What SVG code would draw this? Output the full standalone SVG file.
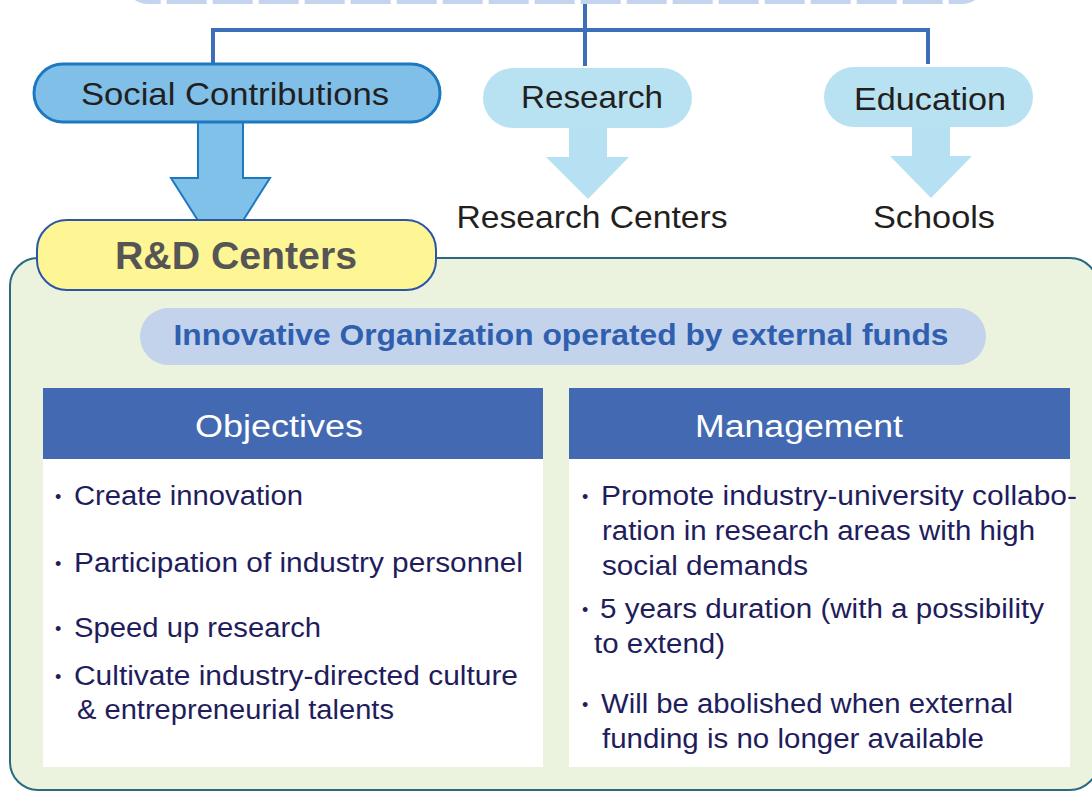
<svg xmlns="http://www.w3.org/2000/svg" width="1092" height="792" viewBox="0 0 1092 792">
<defs>
<style>
text{font-family:"Liberation Sans",Arial,sans-serif;}
.top{font-size:32px;fill:#231f20;text-anchor:middle;}
.hdr{font-size:31px;fill:#ffffff;text-anchor:middle;font-weight:500;}
.bl{font-size:27px;fill:#1f1d5c;}
.dot{font-size:18px;fill:#1f1d5c;}
.conn{stroke:#3d6fb8;stroke-width:4;fill:none;}
</style>
</defs>
<rect width="1092" height="792" fill="#ffffff"/>

<g id="top-box">
<rect x="126" y="-60" width="858" height="62" rx="22" fill="#ffffff" stroke="#c4d4ee" stroke-width="4" stroke-dasharray="40 6"/>
</g>

<g id="connectors">
<path class="conn" d="M585 4 V66"/>
<path class="conn" d="M213 30 H928"/>
<path class="conn" d="M213 28 V65"/>
<path class="conn" d="M928 28 V64"/>
<path d="M198 122 H243 V178 H270 L220.5 256 L171 178 H198 Z" fill="#7fc1e8" stroke="#1e78c0" stroke-width="2"/>
<path d="M569 123 H607 V157 H629 L588 199 L546 157 H569 Z" fill="#a9dcf1" fill-opacity="0.85"/>
<path d="M912 122 H950 V156 H972 L931 198 L890 156 H912 Z" fill="#a9dcf1" fill-opacity="0.85"/>
</g>

<g id="social">
<rect x="34" y="64" width="406" height="58" rx="29" fill="#7fbfe8" stroke="#1e78c0" stroke-width="3"/>
<text class="top" x="235" y="105" textLength="308" lengthAdjust="spacingAndGlyphs">Social Contributions</text>
</g>
<g id="research">
<rect x="483" y="68" width="209" height="60" rx="30" fill="#b8e2f2"/>
<text class="top" x="592" y="108" textLength="142" lengthAdjust="spacingAndGlyphs">Research</text>
</g>
<g id="education">
<rect x="824" y="67" width="209" height="60" rx="30" fill="#b8e2f2"/>
<text class="top" x="930" y="110" textLength="152" lengthAdjust="spacingAndGlyphs">Education</text>
</g>
<g id="research-centers">
<text class="top" x="592" y="228" textLength="271" lengthAdjust="spacingAndGlyphs">Research Centers</text>
</g>
<g id="schools">
<text class="top" x="934" y="228" textLength="122" lengthAdjust="spacingAndGlyphs">Schools</text>
</g>

<g id="container">
<rect x="10" y="258" width="1088" height="532" rx="28" fill="#ebf3df" stroke="#2a6a80" stroke-width="2"/>
</g>

<g id="rd-centers">
<rect x="37" y="220" width="399" height="70" rx="30" fill="#fef594" stroke="#2a55a8" stroke-width="2"/>
<text x="236" y="269" font-size="39" font-weight="bold" fill="#555555" text-anchor="middle" textLength="242" lengthAdjust="spacingAndGlyphs">R&amp;D Centers</text>
</g>

<g id="banner">
<rect x="140" y="308" width="846" height="57" rx="28.5" fill="#c3d3ec"/>
<text x="561" y="345" font-size="30" font-weight="bold" fill="#2f5fae" text-anchor="middle" textLength="775" lengthAdjust="spacingAndGlyphs">Innovative Organization operated by external funds</text>
</g>

<g id="objectives">
<rect x="43" y="388" width="500" height="71" fill="#4369b2"/>
<rect x="43" y="459" width="500" height="308" fill="#ffffff"/>
<text class="hdr" x="279" y="437" textLength="168" lengthAdjust="spacingAndGlyphs">Objectives</text>
<text class="dot" x="55" y="503">•</text>
<text class="bl" x="74" y="505" textLength="229" lengthAdjust="spacingAndGlyphs">Create innovation</text>
<text class="dot" x="55" y="570">•</text>
<text class="bl" x="74" y="572" textLength="449" lengthAdjust="spacingAndGlyphs">Participation of industry personnel</text>
<text class="dot" x="55" y="635">•</text>
<text class="bl" x="74" y="637" textLength="247" lengthAdjust="spacingAndGlyphs">Speed up research</text>
<text class="dot" x="55" y="683">•</text>
<text class="bl" x="74" y="685" textLength="444" lengthAdjust="spacingAndGlyphs">Cultivate industry-directed culture</text>
<text class="bl" x="77" y="719" textLength="317" lengthAdjust="spacingAndGlyphs">&amp; entrepreneurial talents</text>
</g>

<g id="management">
<rect x="569" y="388" width="501" height="71" fill="#4369b2"/>
<rect x="569" y="459" width="501" height="308" fill="#ffffff"/>
<text class="hdr" x="799" y="437" textLength="208" lengthAdjust="spacingAndGlyphs">Management</text>
<text class="dot" x="582" y="503">•</text>
<text class="bl" x="601" y="505" textLength="476" lengthAdjust="spacingAndGlyphs">Promote industry-university collabo-</text>
<text class="bl" x="602" y="540" textLength="433" lengthAdjust="spacingAndGlyphs">ration in research areas with high</text>
<text class="bl" x="602" y="575" textLength="206" lengthAdjust="spacingAndGlyphs">social demands</text>
<text class="dot" x="582" y="616">•</text>
<text class="bl" x="600" y="618" textLength="444" lengthAdjust="spacingAndGlyphs">5 years duration (with a possibility</text>
<text class="bl" x="594" y="653" textLength="131" lengthAdjust="spacingAndGlyphs">to extend)</text>
<text class="dot" x="582" y="711">•</text>
<text class="bl" x="601" y="713" textLength="412" lengthAdjust="spacingAndGlyphs">Will be abolished when external</text>
<text class="bl" x="602" y="748" textLength="382" lengthAdjust="spacingAndGlyphs">funding is no longer available</text>
</g>
</svg>
